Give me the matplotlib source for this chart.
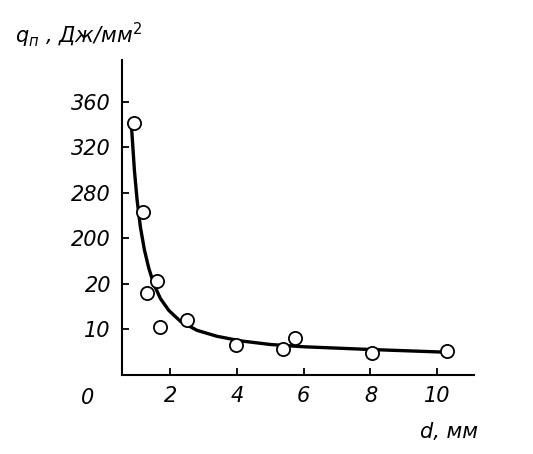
import matplotlib
matplotlib.use("Agg")
import matplotlib.pyplot as plt

# y axis is non-uniform: tick labels at equal spacing
y_tick_pos = [1, 2, 3, 4, 5, 6]
y_tick_labels = ["10", "20", "200", "280", "320", "360"]
x_ticks = [2, 4, 6, 8, 10]

pts_x = [0.9, 1.19, 1.31, 1.61, 1.7, 2.5, 3.97, 5.37, 5.73, 8.06, 10.3]
pts_y = [5.54, 3.58, 1.8, 2.07, 1.05, 1.21, 0.66, 0.57, 0.81, 0.48, 0.53]

curve_x = [0.84, 0.92, 1.0, 1.1, 1.22, 1.35, 1.5, 1.7, 1.95, 2.3, 2.8, 3.4, 4.1, 5.0, 6.0, 8.0, 10.3]
curve_y = [5.38, 4.5, 3.85, 3.25, 2.75, 2.35, 2.0, 1.68, 1.42, 1.18, 0.98, 0.85, 0.75, 0.67, 0.62, 0.56, 0.5]

fig = plt.figure(figsize=(5.33, 4.54), dpi=100)
ax = fig.add_axes([0.229, 0.174, 0.66, 0.694])
ax.plot(curve_x, curve_y, color="black", lw=2.4)
ax.scatter(pts_x, pts_y, s=90, facecolors="white", edgecolors="black", linewidths=1.3, zorder=3)
ax.set_xlim(0.55, 11.1)
ax.set_ylim(0, 6.92)
ax.spines["top"].set_visible(False)
ax.spines["right"].set_visible(False)
ax.spines["left"].set_linewidth(1.5)
ax.spines["bottom"].set_linewidth(1.5)
ax.set_yticks(y_tick_pos)
ax.set_yticklabels(y_tick_labels, fontsize=15, fontstyle="italic")
ax.set_xticks(x_ticks)
ax.set_xticklabels([str(v) for v in x_ticks], fontsize=15, fontstyle="italic")
ax.tick_params(direction="in", length=5, width=1.3, pad=8)
fig.text(88 / 533, 1 - 398 / 454, "0", fontsize=15, fontstyle="italic", ha="center", va="center")
fig.text(15 / 533, 1 - 35 / 454, "$q_п$ , Дж/мм$^2$", fontsize=15, fontstyle="italic", ha="left", va="center")
fig.text(420 / 533, 1 - 432 / 454, "d, мм", fontsize=15, fontstyle="italic", ha="left", va="center")
fig.savefig("out.png", dpi=100)
